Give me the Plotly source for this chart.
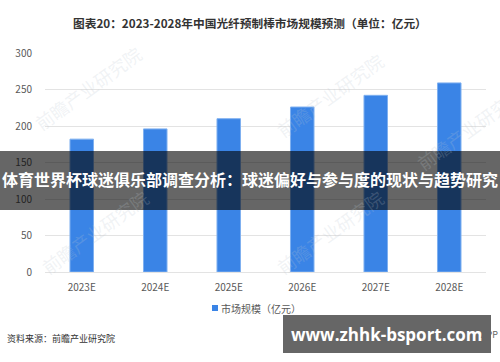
import plotly.graph_objects as go

categories = ["2023E", "2024E", "2025E", "2026E", "2027E", "2028E"]
values = [182, 196, 210, 226, 242, 259]
y_ticks = [0, 50, 100, 150, 200, 250, 300]
series_name = "市场规模（亿元）"
title_text = "图表20：2023-2028年中国光纤预制棒市场规模预测（单位：亿元）"
banner_text = "体育世界杯球迷俱乐部调查分析：球迷偏好与参与度的现状与趋势研究"
source_text = "资料来源：前瞻产业研究院"
site_text = "www.zhhk-bsport.com"

W, H = 500, 362
L, R, T, B = 45, 14, 53, 90
PW, PH = W - L - R, H - T - B
BAR_COLOR = "#3a84e6"

def px(x):
    return (x - L) / PW

def py(y):
    return (H - B - y) / PH

FONT = "Noto Sans CJK SC, Noto Sans, sans-serif"

fig = go.Figure()
fig.add_trace(go.Bar(
    x=categories, y=values, name=series_name,
    marker=dict(color=BAR_COLOR, line=dict(color="#7fb0f0", width=1)),
    showlegend=False,
))

def ann(x, y, text, size, color, xanchor="center", family=FONT, angle=0):
    return dict(x=px(x), y=py(y), xref="paper", yref="paper", text=text, showarrow=False,
                xanchor=xanchor, yanchor="middle", textangle=angle,
                font=dict(size=size, color=color, family=family))

annotations = []
# faint watermarks
for (wx, wy) in [(88, 88), (330, 95), (470, 128), (95, 232), (330, 232)]:
    annotations.append(ann(wx, wy, "前瞻产业研究院", 18, "rgba(190,198,208,0.22)", angle=-36))

annotations += [
    ann(250, 23, "<b>" + title_text + "</b>", 11.7, "#333333"),
    ann(5, 338, source_text, 9, "#333333", xanchor="left"),
    ann(219, 308, series_name, 10, "#595959", xanchor="left"),
    ann(250, 179, "<b>" + banner_text + "</b>", 16, "#ffffff"),
    ann(387, 334, "<b>" + site_text + "</b>", 17, "#ffffff", family="Open Sans, DejaVu Sans, sans-serif"),
    ann(500, 334, "APP", 9, "#666666", xanchor="right"),
]

shapes = [
    # legend swatch
    dict(type="rect", xref="paper", yref="paper", x0=px(212), x1=px(218), y0=py(305), y1=py(311),
         fillcolor=BAR_COLOR, line=dict(width=0), layer="above"),
    dict(type="rect", xref="paper", yref="paper", x0=px(0), x1=px(500), y0=py(151), y1=py(210),
         fillcolor="rgba(0,0,0,0.6)", line=dict(width=0), layer="above"),
    dict(type="rect", xref="paper", yref="paper", x0=px(283), x1=px(491), y0=py(315), y1=py(353),
         fillcolor="rgba(0,0,0,0.6)", line=dict(width=0), layer="above"),
]

fig.update_layout(
    width=W, height=H,
    margin=dict(l=L, r=R, t=T, b=B, pad=0),
    paper_bgcolor="white", plot_bgcolor="white",
    bargap=0.68,
    showlegend=False,
    font=dict(family=FONT, size=10, color="#595959"),
    xaxis=dict(showgrid=False, showline=False, ticks="", tickfont=dict(size=10, color="#595959"),
               ticklabelstandoff=8),
    yaxis=dict(range=[0, 300], tickvals=y_ticks, showgrid=True, gridcolor="#e3e3e3", gridwidth=1,
               zeroline=True, zerolinecolor="#e3e3e3", zerolinewidth=1, showline=False, ticks="",
               tickfont=dict(size=10, color="#595959"), ticklabelstandoff=12),
    annotations=annotations,
    shapes=shapes,
)

fig.write_html("out.html")
